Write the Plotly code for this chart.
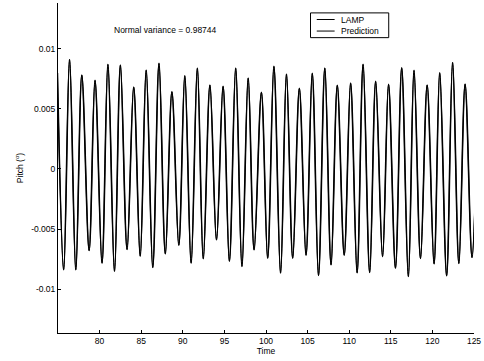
import plotly.graph_objects as go

# Extrema of the pitch signal (alternating peaks and troughs)
time = [74.93, 75.68, 76.39, 77.14, 77.86, 78.74, 79.45, 80.29, 81.00, 81.79,
        82.50, 83.30, 84.10, 84.88, 85.60, 86.39, 87.14, 87.90, 88.69, 89.52,
        90.24, 91.00, 91.75, 92.46, 93.26, 94.05, 94.84, 95.60, 96.36, 97.11,
        97.86, 98.57, 99.45, 100.20, 100.95, 101.75, 102.46, 103.21, 104.01, 104.81,
        105.56, 106.31, 107.07, 107.82, 108.57, 109.40, 110.17, 110.95, 111.67, 112.46,
        113.18, 114.01, 114.73, 115.56, 116.31, 117.11, 117.79, 118.57, 119.37, 120.20,
        120.88, 121.71, 122.43, 123.18, 123.93, 124.76, 125.50]
pitch = [0.0080, -0.00840, 0.00912, -0.00840, 0.00782, -0.00679, 0.00738, -0.00784, 0.00871, -0.00852,
         0.00865, -0.00671, 0.00682, -0.00726, 0.00823, -0.00821, 0.00879, -0.00707, 0.00643, -0.00635,
         0.00776, -0.00784, 0.00840, -0.00748, 0.00699, -0.00591, 0.00688, -0.00768, 0.00840, -0.00812,
         0.00757, -0.00674, 0.00638, -0.00743, 0.00854, -0.00867, 0.00790, -0.00743, 0.00671, -0.00718,
         0.00796, -0.00887, 0.00840, -0.00799, 0.00697, -0.00718, 0.00715, -0.00865, 0.00871, -0.00862,
         0.00729, -0.00730, 0.00704, -0.00826, 0.00842, -0.00896, 0.00821, -0.00746, 0.00699, -0.00790,
         0.00801, -0.00890, 0.00887, -0.00787, 0.00707, -0.00737, 0.0080]

ytick_vals = [0.01, 0.005, 0, -0.005, -0.01]
ytick_text = ["0.01", "0.005", "0", "-0.005", "-0.01"]
xtick_vals = [80, 85, 90, 95, 100, 105, 110, 115, 120, 125]
series_names = ["LAMP", "Prediction"]

FONT = "Liberation Sans, Arial, Helvetica, sans-serif"

fig = go.Figure()
fig.add_trace(go.Scatter(x=time, y=pitch, mode="lines", name=series_names[0],
                         line=dict(color="black", width=1.6, shape="spline", smoothing=1.0),
                         showlegend=False))
fig.add_trace(go.Scatter(x=time, y=pitch, mode="lines", name=series_names[1],
                         line=dict(color="black", width=1.0, shape="spline", smoothing=1.0),
                         showlegend=False))

# Legend box drawn in MATLAB style
lx0, lx1, ly0, ly1 = 0.607, 0.795, 0.895, 0.970
shapes = [dict(type="rect", xref="paper", yref="paper", x0=lx0, x1=lx1, y0=ly0, y1=ly1,
               line=dict(color="black", width=1), fillcolor="white", layer="above")]
annotations = []
for i, (nm, yy) in enumerate(zip(series_names, [0.950, 0.915])):
    shapes.append(dict(type="line", xref="paper", yref="paper", x0=0.622, x1=0.665, y0=yy, y1=yy,
                       line=dict(color="black", width=1), layer="above"))
    annotations.append(dict(text=nm, xref="paper", yref="paper", x=0.676, y=yy,
                            xanchor="left", yanchor="middle", showarrow=False,
                            font=dict(family=FONT, size=8.5, color="black")))

annotations.append(dict(text="Normal variance = 0.98744", xref="paper", yref="paper",
                        x=0.259, y=0.917, xanchor="center", yanchor="middle", showarrow=False,
                        font=dict(family=FONT, size=8.5, color="black")))

fig.update_layout(
    width=484, height=361,
    margin=dict(l=58, r=6, t=3, b=28),
    paper_bgcolor="white", plot_bgcolor="white",
    font=dict(family=FONT, size=8.5, color="black"),
    shapes=shapes, annotations=annotations,
    xaxis=dict(range=[75, 125.0001], tickvals=xtick_vals, ticks="inside", ticklen=3,
               tickcolor="black", showline=True, linecolor="black", linewidth=1,
               showgrid=False, zeroline=False, mirror=False, ticklabeloverflow="allow",
               tickfont=dict(family=FONT, size=8.5, color="black"),
               title=dict(text="Time", standoff=2, font=dict(family=FONT, size=8.5, color="black"))),
    yaxis=dict(range=[-0.01366, 0.01382], tickvals=ytick_vals, ticktext=ytick_text,
               ticks="inside", ticklen=3, tickcolor="black", showline=True,
               linecolor="black", linewidth=1, showgrid=False, zeroline=False, mirror=False,
               tickfont=dict(family=FONT, size=8.5, color="black"),
               title=dict(text="Pitch (<sup>o</sup>)", standoff=6,
                          font=dict(family=FONT, size=8.5, color="black"))),
)

fig.write_html("out.html")
